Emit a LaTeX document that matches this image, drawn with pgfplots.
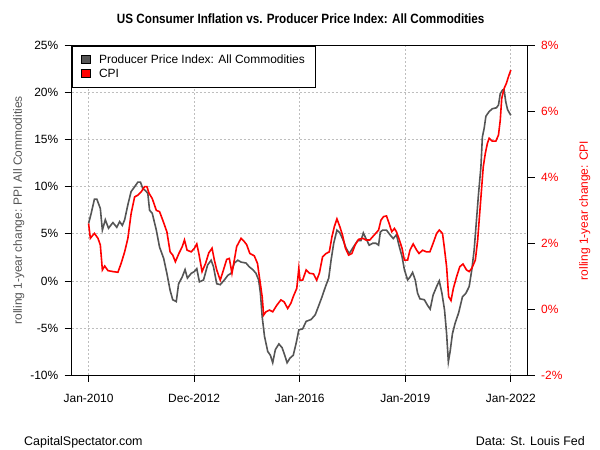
\documentclass[border=0pt]{standalone}
\usepackage{pgfplots}
\pgfplotsset{compat=1.18}
\usepackage{fontspec}
\setmainfont{Liberation Sans}
\definecolor{ppigray}{HTML}{555555}
\definecolor{cpired}{HTML}{FF0000}
\definecolor{gridgray}{HTML}{BEBEBE}
\begin{document}
\begin{tikzpicture}
\path[use as bounding box] (0,0) rectangle (600bp,450bp);
\pgfplotsset{
  base/.style={scale only axis, width=456bp, height=329.3bp, at={(71.7bp,75bp)}, anchor=south west,
    xmin=-5.76, xmax=149.76, tick align=outside, major tick length=7bp,
    ticklabel style={font=\fontsize{12}{14}\selectfont},
    every tick/.style={black, line width=0.8bp},
    axis line style={line width=0.9bp},
    label style={font=\fontsize{12}{14}\selectfont}}
}
\begin{axis}[base, ymin=-10, ymax=25,
  xtick={0,36,72,108,144}, xticklabels={Jan-2010,Dec-2012,Jan-2016,Jan-2019,Jan-2022},
  ytick={-10,-5,0,5,10,15,20,25}, yticklabels={-10\%,-5\%,0\%,5\%,10\%,15\%,20\%,25\%},
  xtick pos=bottom, ytick pos=left,
  xticklabel style={yshift=-9bp}, yticklabel style={xshift=-3bp},
  grid=major, grid style={gridgray, dash pattern=on 2bp off 2bp, line width=0.8bp},
  ylabel={rolling 1-year change: PPI All Commodities},
  ylabel style={at={(axis description cs:-0.1162,0.5)}, anchor=center, color=ppigray}]
\addplot[ppigray, line width=1.6bp] coordinates {
(0,6.1) (0.9,7.2) (2,8.7) (2.8,8.7) (4,7.7) (4.7,5.4) (5.7,6.5) (6.8,5.6) (8.3,6.2) (9.6,5.7)
(10.6,6.3) (11.5,5.9) (12.3,6.5) (13.4,8.1) (14.5,9.5) (15.7,10.0) (16.8,10.5) (17.7,10.5) (18.5,9.8) (19.4,9.6)
(20.2,9.3) (20.8,7.5) (21.7,7.2) (23.1,5.4) (24.2,3.6) (25.6,2.4) (26.7,0.8) (27.8,-1.0) (28.7,-2.0) (29.9,-2.2)
(30.7,-0.3) (31.9,0.4) (32.9,1.2) (33.7,0.3) (35,0.8) (36.1,1.0) (36.9,1.3) (37.8,-0.1) (39.2,0.1) (40.6,1.7)
(41.8,2.2) (42.6,1.5) (43.7,-0.3) (44.9,-0.4) (46.3,0.1) (47.5,0.6) (48.6,0.8) (49.7,1.9) (50.9,2.2) (52,2.0)
(53.7,1.9) (54.8,1.5) (56,1.2) (57.1,0.8) (58,0.1) (58.6,-1.3) (59.2,-3.8) (60,-5.9) (61.1,-7.5) (62,-7.9)
(62.8,-8.7) (63.7,-7.3) (64.9,-6.7) (66,-7.1) (66.9,-7.9) (67.7,-8.7) (68.7,-8.2) (69.8,-7.9) (70.8,-6.6) (71.7,-5.2)
(73,-5.1) (74.2,-4.3) (75.9,-4.1) (77.3,-3.6) (78.4,-2.7) (79.6,-1.7) (80.8,-0.6) (81.9,0.3) (82.7,2.2) (83.6,4.0)
(84.7,5.4) (85.7,5.1) (86.6,4.5) (87.8,3.5) (88.9,2.9) (90.1,3.5) (91.8,4.3) (92.9,4.3) (93.7,5.1) (94.6,4.5)
(95.7,3.8) (96.9,4.0) (98,4.0) (98.9,3.8) (99.5,5.2) (100.3,5.4) (101.6,5.4) (102.8,4.9) (103.9,4.5) (105,4.9)
(106,3.6) (106.9,2.6) (107.7,1.2) (108.8,0.1) (109.6,0.4) (110.5,0.9) (111.4,0.1) (112.2,-1.3) (113,-1.9) (114.5,-2.0)
(115.6,-2.6) (116.5,-3.0) (117.5,-1.5) (118.7,-0.6) (119.6,0.0) (120.5,-1.3) (121.4,-3.1) (122.1,-5.6) (122.7,-8.6) (123.3,-7.5)
(124.1,-5.6) (125,-4.5) (126.2,-3.4) (127.5,-1.7) (128.7,-1.3) (129.8,-0.6) (130.7,1.2) (131.5,3.3) (132.3,6.5) (133,9.3)
(133.8,12.1) (134.3,15.3) (134.9,16.2) (135.5,17.5) (136.6,18.0) (137.7,18.3) (139.1,18.4) (139.8,18.7) (140.4,19.9) (141.2,20.3)
(141.7,20.3) (142.3,19.0) (142.9,18.2) (144,17.6)
};
\end{axis}
\begin{axis}[base, ymin=-2, ymax=8, axis x line=none, axis y line*=right,
  ytick={-2,0,2,4,6,8}, yticklabels={-2\%,0\%,2\%,4\%,6\%,8\%}, ytick pos=right,
  yticklabel style={color=cpired, xshift=3bp},
  ylabel={rolling 1-year change: CPI},
  ylabel style={at={(axis description cs:1.125,0.5)}, anchor=center, color=cpired},
  legend cell align=left,
  legend style={at={(0,1)}, anchor=north west, draw=black, line width=0.8bp, fill=white,
    font=\fontsize{12}{14}\selectfont, inner xsep=9bp, inner ysep=6.5bp, row sep=0bp,
    nodes={inner sep=2bp}, /tikz/every odd column/.style={column sep=6.5bp}}]
\addlegendimage{area legend, legend image code/.code={\draw[fill=ppigray, draw=black, line width=0.5bp] (0bp,-4bp) rectangle (9bp,4bp);}}
\addlegendentry{Producer Price Index: All Commodities}
\addplot[cpired, line width=1.6bp, legend image code/.code={\draw[fill=cpired, draw=black, line width=0.5bp] (0bp,-4bp) rectangle (9bp,4bp);}] coordinates {
(0,2.6) (0.6,2.15) (1.5,2.25) (2,2.3) (3.2,2.15) (4,1.95) (4.7,1.19) (5.5,1.31) (6.6,1.17) (8.3,1.14)
(10,1.12) (11.1,1.39) (12.3,1.74) (13.4,2.15) (14.5,2.9) (15.7,3.41) (16.8,3.46) (18,3.57) (19.1,3.72) (19.9,3.72)
(20.6,3.52) (21.7,3.36) (23.1,3.0) (24.2,2.96) (25.3,2.7) (26.7,2.35) (27.8,1.74) (28.7,1.64) (29.6,1.44) (30.8,1.69)
(31.9,1.89) (32.7,2.1) (33.6,1.79) (35,1.74) (36.1,1.85) (36.9,1.98) (37.6,1.69) (38.7,1.14) (39.9,1.39) (41,1.71)
(42.1,1.85) (42.9,1.49) (43.7,1.19) (44.9,0.88) (46,1.19) (47.1,1.51) (48,1.54) (48.9,1.09) (49.7,1.49) (50.5,1.9)
(52,2.15) (53.1,2.05) (53.9,1.96) (55,1.69) (56.5,1.62) (57.6,1.39) (58.4,0.88) (59.2,0.38) (59.7,-0.18) (60.5,-0.08)
(61.7,-0.03) (62.8,-0.08) (64.2,0.12) (65.6,0.28) (66.7,0.22) (67.9,0.02) (69,0.18) (69.8,0.38) (71,0.63) (71.7,1.24)
(72.1,0.88) (73,0.88) (74.2,1.19) (75.3,1.09) (76.7,1.07) (77.8,0.88) (78.7,1.09) (79.8,1.59) (81,1.69) (82.1,1.74)
(83,2.2) (83.8,2.5) (84.7,2.74) (85.7,2.5) (86.6,2.25) (87.6,1.85) (88.7,1.64) (89.8,1.69) (90.9,1.95) (92.1,2.12)
(93.5,2.15) (94.6,2.1) (95.9,2.1) (97.4,2.25) (98.9,2.4) (99.7,2.7) (100.6,2.81) (101.6,2.83) (102.5,2.6) (103.4,2.35)
(104.3,2.45) (105,2.35) (106,2.1) (106.9,1.85) (107.7,1.49) (108.8,1.49) (109.6,1.79) (110.7,1.98) (111.9,1.79) (112.7,1.69)
(113.9,1.79) (115.2,1.74) (116.4,1.74) (117.5,2.0) (118.7,2.3) (119.6,2.4) (120.7,2.3) (121.3,1.89) (122.1,1.29) (122.8,0.38)
(123.6,0.26) (124.4,0.63) (125.5,0.98) (126.6,1.29) (127.7,1.37) (128.9,1.19) (129.8,1.14) (130.7,1.24) (131.9,1.49) (132.7,2.1)
(133.3,2.81) (134,3.62) (134.6,4.32) (135.3,4.73) (136,5.03) (136.6,5.19) (137.7,5.1) (138.9,5.1) (139.8,5.29) (140.4,5.74)
(140.9,6.4) (141.7,6.7) (142.5,6.86) (143.2,7.06) (144,7.26)
};
\addlegendentry{CPI}
\end{axis}
\node[inner sep=0pt, font=\bfseries\fontsize{13.5}{16}\selectfont] at (300.7bp,431bp) {\scalebox{0.87}[1]{US Consumer Inflation vs. Producer Price Index: All Commodities}};
\node[inner sep=0pt, anchor=base west, font=\fontsize{12.5}{15}\selectfont] at (24bp,5bp) {CapitalSpectator.com};
\node[inner sep=0pt, anchor=base east, font=\fontsize{12.5}{15}\selectfont] at (585bp,5bp) {Data: St. Louis Fed};
\end{tikzpicture}
\end{document}
